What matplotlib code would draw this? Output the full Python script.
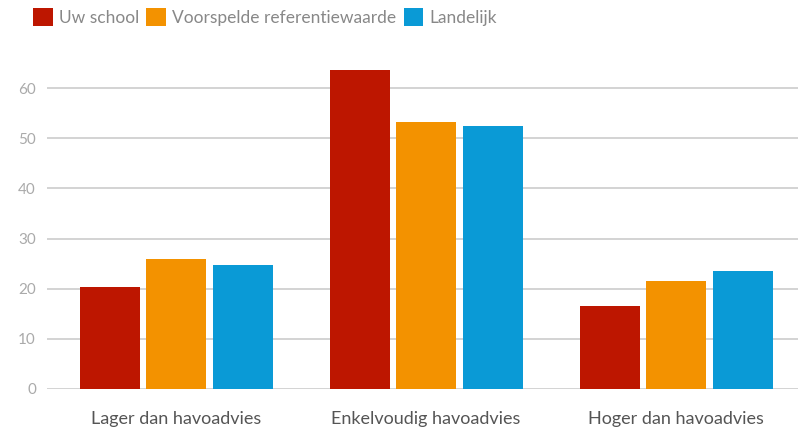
import matplotlib.pyplot as plt
import numpy as np

categories = ['Lager dan havoadvies', 'Enkelvoudig havoadvies', 'Hoger dan havoadvies']
series_names = ['Uw school', 'Voorspelde referentiewaarde', 'Landelijk']
uw_school = [20.4, 63.6, 16.5]
voorspeld = [25.9, 53.2, 21.6]
landelijk = [24.7, 52.4, 23.6]
y_ticks = [0, 10, 20, 30, 40, 50, 60]

colors = ['#BD1600', '#F39200', '#0A9AD6']

plt.rcParams['font.family'] = ['Lato', 'DejaVu Sans']

fig = plt.figure(figsize=(7.98, 4.30), dpi=100)
# axes placed in pixel terms: left 47, right 798, bottom at y=389, top ~63
ax = fig.add_axes([47 / 798, 41 / 430, 751 / 798, 326 / 430])

x = np.arange(len(categories))
width = 0.24
step = 0.266
handles = []
for i, (vals, name) in enumerate(zip([uw_school, voorspeld, landelijk], series_names)):
    b = ax.bar(x + (i - 1) * step, vals, width, color=colors[i], label=name, zorder=3)
    handles.append(b)

ax.set_xlim(-0.516, 2.488)
ax.set_ylim(0, 65)
ax.set_yticks(y_ticks)
ax.grid(axis='y', color='#cccccc', linewidth=1.2, zorder=0)
ax.set_axisbelow(True)
for s in ax.spines.values():
    s.set_visible(False)
ax.tick_params(axis='y', length=0, pad=8, labelsize=11, labelcolor='#aaaaaa')
ax.set_xticks(x)
ax.set_xticklabels(categories, fontsize=13, color='#555555')
ax.tick_params(axis='x', length=0, pad=16)

fig.legend(handles=handles, labels=series_names, loc='upper left',
           bbox_to_anchor=(0.022, 1.017), ncol=3, frameon=False,
           handlelength=1.15, handleheight=1.15, handletextpad=0.35,
           columnspacing=0.4, fontsize=12.5, labelcolor='#888888')

fig.savefig('out.png', dpi=100)
